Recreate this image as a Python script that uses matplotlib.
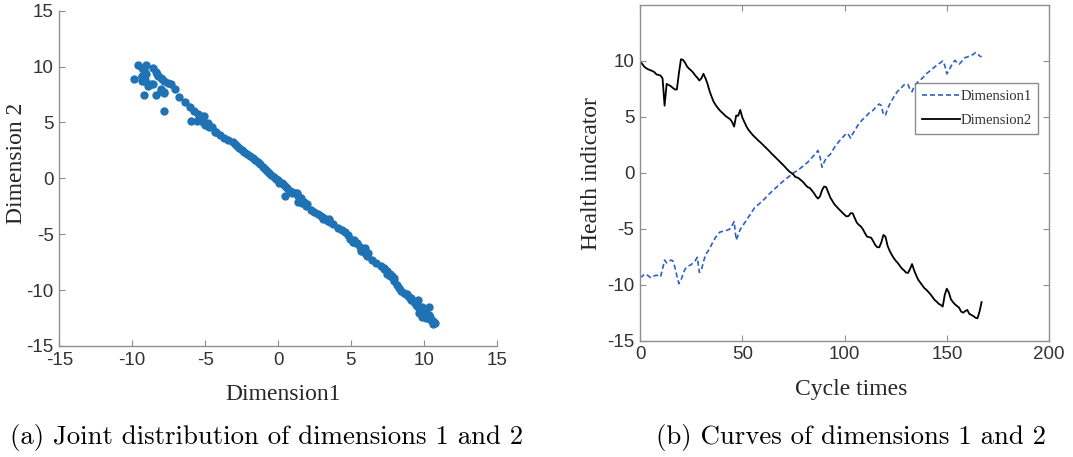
import matplotlib
matplotlib.use("Agg")
import matplotlib.pyplot as plt
import numpy as np

# ---------------- data ----------------
cycles = list(range(0, 168))

dimension1 = [
    -9.35, -9.25, -9.10, -9.05, -9.20, -9.35, -9.35, -9.20, -9.15, -9.20,
    -9.30, -8.60, -7.80, -8.05, -8.00, -7.80, -7.85, -8.40, -9.20, -9.90,
    -9.60, -9.05, -8.60, -8.40, -8.30, -8.20, -8.05, -7.85, -7.55, -8.90,
    -8.70, -7.95, -7.35, -7.05, -6.80, -6.40, -6.05, -5.75, -5.50, -5.30,
    -5.25, -5.20, -5.15, -5.10, -5.00, -4.70, -4.35, -6.00, -5.55, -5.05,
    -4.80, -4.50, -4.25, -3.95, -3.70, -3.40, -3.12, -2.95, -2.82, -2.65,
    -2.50, -2.30, -2.12, -1.92, -1.75, -1.55, -1.40, -1.25, -1.05, -0.90,
    -0.75, -0.60, -0.45, -0.30, -0.15, 0.00, 0.10, 0.25, 0.35, 0.50,
    0.65, 0.80, 0.95, 1.15, 1.35, 1.55, 1.75, 2.00, 1.40, 0.50,
    0.95, 1.30, 1.50, 1.65, 1.95, 2.25, 2.50, 2.75, 2.95, 3.15,
    3.35, 3.55, 3.40, 3.10, 3.50, 3.75, 4.10, 4.40, 4.60, 4.80,
    4.95, 5.15, 5.35, 5.45, 5.60, 5.80, 6.00, 6.15, 6.00, 5.20,
    5.15, 5.70, 6.10, 6.45, 6.75, 7.05, 7.30, 7.45, 7.65, 7.85,
    7.95, 7.90, 7.45, 7.25, 7.70, 7.95, 8.15, 8.30, 8.45, 8.65,
    8.85, 9.00, 9.15, 9.30, 9.45, 9.60, 9.75, 9.85, 10.00, 9.60,
    8.85, 9.15, 9.50, 9.85, 10.05, 9.85, 9.70, 9.90, 10.15, 10.30,
    10.35, 10.45, 10.50, 10.60, 10.75, 10.65, 10.45, 10.35,
]

dimension2 = [
    9.90, 9.75, 9.50, 9.35, 9.25, 9.18, 9.10, 9.00, 8.80, 8.75,
    8.70, 8.45, 6.00, 7.95, 7.85, 7.75, 7.60, 7.45, 7.45, 8.90,
    10.15, 10.10, 9.85, 9.50, 9.30, 9.15, 8.95, 8.70, 8.50, 8.25,
    8.45, 8.85, 8.45, 7.95, 7.30, 6.80, 6.35, 6.05, 5.80, 5.58,
    5.40, 5.22, 5.05, 4.92, 4.80, 4.55, 4.13, 5.12, 5.10, 5.62,
    4.95, 4.55, 4.15, 3.85, 3.62, 3.40, 3.22, 3.03, 2.86, 2.70,
    2.52, 2.35, 2.15, 1.98, 1.78, 1.60, 1.42, 1.25, 1.05, 0.88,
    0.70, 0.50, 0.30, 0.12, -0.02, -0.15, -0.38, -0.42, -0.55, -0.70,
    -0.88, -1.10, -1.28, -1.35, -1.58, -1.80, -2.10, -2.30, -2.10, -1.55,
    -1.22, -1.28, -1.75, -2.20, -2.50, -2.80, -3.00, -3.20, -3.38, -3.55,
    -3.75, -3.90, -3.85, -3.60, -3.62, -4.05, -4.45, -4.65, -4.80, -5.05,
    -5.40, -5.70, -5.75, -5.80, -6.10, -6.45, -6.65, -6.65, -6.20, -5.55,
    -5.70, -6.50, -6.95, -7.30, -7.60, -7.85, -8.05, -8.30, -8.55, -8.70,
    -8.90, -8.95, -8.60, -8.15, -8.70, -9.15, -9.55, -9.80, -10.05, -10.30,
    -10.45, -10.65, -10.85, -11.10, -11.35, -11.50, -11.70, -11.80, -11.95, -10.90,
    -10.35, -10.70, -11.30, -11.55, -11.75, -11.90, -12.05, -12.40, -12.50, -12.35,
    -12.25, -12.60, -12.70, -12.80, -12.95, -13.00, -12.40, -11.55,
]

scatter_ticks = [-15, -10, -5, 0, 5, 10, 15]
cycle_ticks = [0, 50, 100, 150, 200]
hi_ticks = [-15, -10, -5, 0, 5, 10]

caption_a = "(a) Joint distribution of dimensions 1 and 2"
caption_b = "(b) Curves of dimensions 1 and 2"

# ---------------- style ----------------
plt.rcParams["axes.unicode_minus"] = False
SPINE = "#8f8f8f"
TICKC = "#333333"
TICKFONT = "Liberation Sans"
LABELFONT = "Liberation Serif"

fig = plt.figure(figsize=(10.73, 4.57), dpi=100)
fig.patch.set_facecolor("white")

# ---------------- (a) scatter ----------------
ax1 = fig.add_axes([0.0553, 0.2429, 0.4076, 0.7337])
ax1.scatter(dimension1, dimension2, s=36, color="#1f72b4", linewidths=0, zorder=3)
ax1.set_xlim(-15, 15)
ax1.set_ylim(-15, 15)
ax1.set_xticks(scatter_ticks)
ax1.set_yticks(scatter_ticks)
for s in ["top", "right"]:
    ax1.spines[s].set_visible(False)
for s in ["left", "bottom"]:
    ax1.spines[s].set_color(SPINE)
    ax1.spines[s].set_linewidth(1.0)
ax1.tick_params(direction="in", length=4, width=0.8, color=SPINE,
                labelsize=13.5, labelcolor=TICKC, pad=4)
for lab in ax1.get_xticklabels() + ax1.get_yticklabels():
    lab.set_fontfamily(TICKFONT)
ax1.set_xlabel("Dimension1", fontfamily=LABELFONT, fontsize=17, color="#262626")
ax1.set_ylabel("Dimension 2", fontfamily=LABELFONT, fontsize=17, color="#262626")
ax1.xaxis.set_label_coords(0.511, -0.112)
ax1.xaxis.label.set_va("top")
ax1.yaxis.set_label_coords(-0.075, 0.545)

# ---------------- (b) curves ----------------
ax2 = fig.add_axes([0.5965, 0.2545, 0.3812, 0.7346])
ax2.plot(cycles, dimension1, color="#2f5fc4", lw=1.2,
         linestyle=(0, (3.0, 1.8)), label="Dimension1")
ax2.plot(cycles, dimension2, color="black", lw=1.3, label="Dimension2")
ax2.set_xlim(0, 200)
ax2.set_ylim(-15, 15)
ax2.set_xticks(cycle_ticks)
ax2.set_yticks(hi_ticks)
for s in ax2.spines.values():
    s.set_color(SPINE)
    s.set_linewidth(1.0)
ax2.tick_params(direction="in", length=4, width=0.8, color=SPINE,
                labelsize=13.5, labelcolor=TICKC, pad=4,
                top=True, right=True)
for lab in ax2.get_xticklabels() + ax2.get_yticklabels():
    lab.set_fontfamily(TICKFONT)
ax2.set_xlabel("Cycle times", fontfamily=LABELFONT, fontsize=17, color="#262626")
ax2.set_ylabel("Health indicator", fontfamily=LABELFONT, fontsize=17, color="#262626")
ax2.xaxis.set_label_coords(0.515, -0.113)
ax2.xaxis.label.set_va("top")
ax2.yaxis.set_label_coords(-0.092, 0.497)

leg = ax2.legend(loc="upper right", bbox_to_anchor=(0.974, 0.767),
                 borderaxespad=0, fancybox=False, frameon=True,
                 prop={"family": LABELFONT, "size": 10.5},
                 handlelength=2.6, handletextpad=0.05, borderpad=0.45,
                 labelspacing=0.75)
leg.get_frame().set_edgecolor("#6f6f6f")
leg.get_frame().set_linewidth(1.0)
for t in leg.get_texts():
    t.set_color("#333333")

# ---------------- captions ----------------
fig.text(0.248, 0.042, caption_a, fontfamily="cmr10", fontsize=19.3,
         ha="center", va="center", color="black")
fig.text(0.793, 0.042, caption_b, fontfamily="cmr10", fontsize=19.3,
         ha="center", va="center", color="black")

fig.savefig("out.png", dpi=100, facecolor="white")
